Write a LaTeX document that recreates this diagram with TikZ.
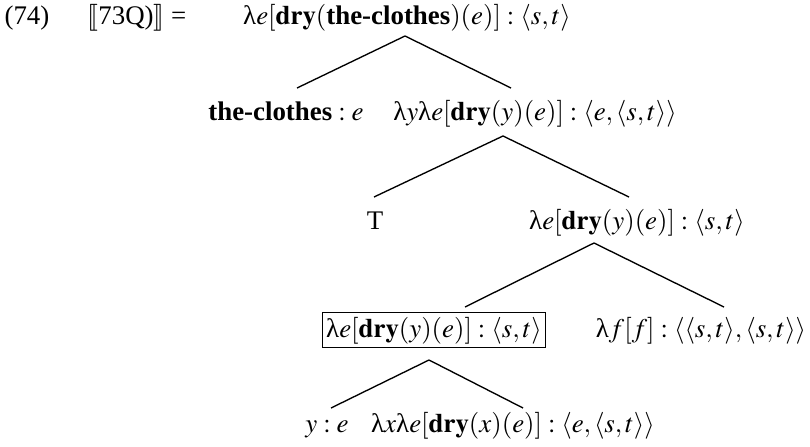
\documentclass[tikz,border=0pt]{standalone}
\usepackage{amsmath}
\usepackage{mathptmx}
\usepackage{stmaryrd}
\usepackage{fontspec}
\setmainfont{Liberation Serif}

\newcommand{\lam}{\text{λ}}
\newcommand{\dry}{\mathbf{dry}}
\newcommand{\clo}{\textbf{the-clothes}}

\begin{document}
\begin{tikzpicture}[x=0.372pt,y=-0.372pt,line width=0.5pt,
  every node/.style={anchor=base,inner sep=0pt},
  framed/.style={draw,inner sep=1.5pt}]
  \useasboundingbox (0,0) rectangle (810,446);
  % example number
  \node (num) at (27,24) {(74)};
  \node (lhs) at (137,24) {$\llbracket$73Q)$\rrbracket$ =};
  % the tree
  \node (root) at (407,24) {$\lam e[\dry(\clo)(e)] : \langle s,t\rangle$};
  \node (cl) at (286,120) {$\clo : e$};
  \node (ly) at (535,120) {$\lam y\lam e[\dry(y)(e)] : \langle e,\langle s,t\rangle\rangle$};
  \node (T) at (375,229) {T};
  \node (le) at (637,229) {$\lam e[\dry(y)(e)] : \langle s,t\rangle$};
  \node[framed] (box) at (434,337) {$\lam e[\dry(y)(e)] : \langle s,t\rangle$};
  \node (lf) at (701,337) {$\lam f[f] : \langle\langle s,t\rangle, \langle s,t\rangle\rangle$};
  \node (y) at (327,432) {$y : e$};
  \node (lx) at (513,432) {$\lam x\lam e[\dry(x)(e)] : \langle e,\langle s,t\rangle\rangle$};
  % branch ends
  \coordinate (root-d) at (405,36);
  \coordinate (cl-u) at (297,88);
  \coordinate (ly-u) at (511,88);
  \coordinate (ly-d) at (503,136);
  \coordinate (T-u) at (374,197);
  \coordinate (le-u) at (629,197);
  \coordinate (le-d) at (594,243);
  \coordinate (box-u) at (465,307);
  \coordinate (lf-u) at (724,307);
  \coordinate (box-d) at (429,360);
  \coordinate (y-u) at (331,408);
  \coordinate (lx-u) at (523,408);
  \foreach \a/\b in {root-d/cl-u,root-d/ly-u,ly-d/T-u,ly-d/le-u,
                     le-d/box-u,le-d/lf-u,box-d/y-u,box-d/lx-u}
    \draw (\a) -- (\b);
\end{tikzpicture}
\end{document}
